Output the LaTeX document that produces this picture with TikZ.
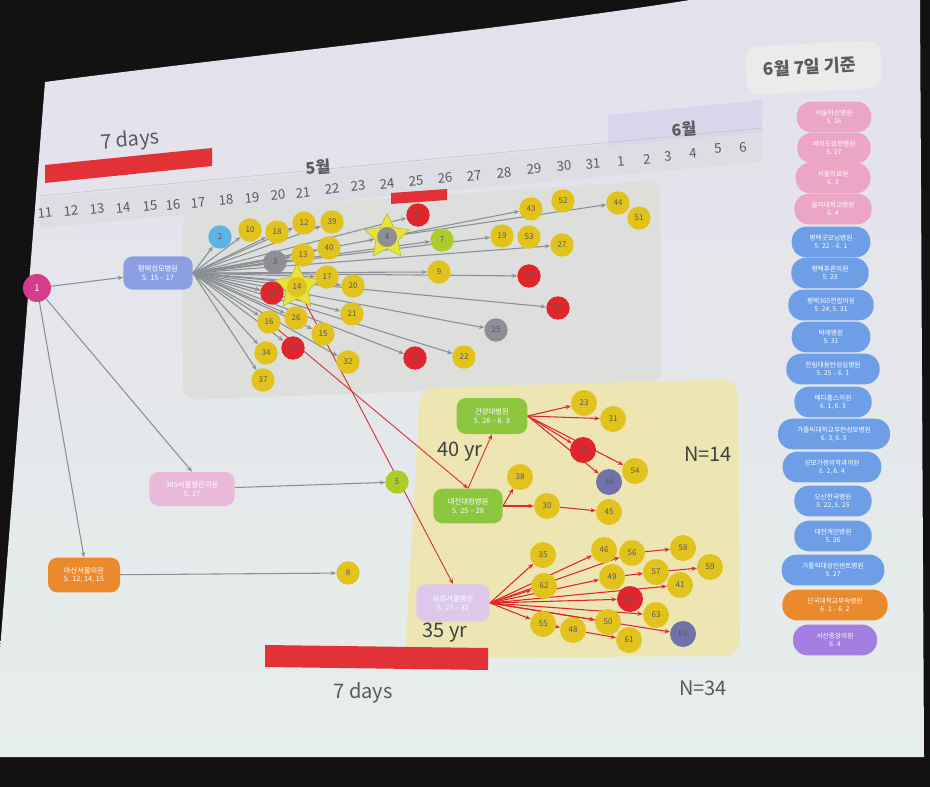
\documentclass[tikz,border=0pt]{standalone}
\usepackage{fontspec}
\setmainfont{Noto Sans CJK KR}
\usetikzlibrary{shapes.geometric,arrows.meta}
\pgfdeclarelayer{back}
\pgfdeclarelayer{wires}
\pgfsetlayers{back,wires,main}
\definecolor{cdark}{HTML}{141113}
\definecolor{cbg}{HTML}{E6EEEB}
\definecolor{ctop}{HTML}{E4E0EC}
\definecolor{cgpanel}{HTML}{DCDFDC}
\definecolor{cypanel}{HTML}{EDE6B2}
\definecolor{cband}{HTML}{DDDEE4}
\definecolor{cbandp}{HTML}{D9D6EC}
\definecolor{cyel}{HTML}{E2C21C}
\definecolor{cred}{HTML}{E0262D}
\definecolor{cgray}{HTML}{8E8E96}
\definecolor{clime}{HTML}{A9CE2A}
\definecolor{cblue}{HTML}{5DB2E6}
\definecolor{cmag}{HTML}{D63C8C}
\definecolor{cpyeong}{HTML}{8C9FE2}
\definecolor{cpink}{HTML}{EAB8D8}
\definecolor{corange}{HTML}{EA8A2C}
\definecolor{cgreen}{HTML}{8DC63F}
\definecolor{clav}{HTML}{DCC8EA}
\definecolor{clpink}{HTML}{EBA6C6}
\definecolor{clblue}{HTML}{6E9EE6}
\definecolor{clpurple}{HTML}{A47EE0}
\definecolor{cline}{HTML}{8C8E96}
\definecolor{cstar}{HTML}{E6E43C}
\definecolor{ctext}{HTML}{5A5A5E}
\begin{document}
\begin{tikzpicture}[x=0.75pt,y=-0.75pt,
  dot/.style={circle,minimum size=17.5pt,inner sep=0pt,font=\fontsize{6}{6}\selectfont,text=black!65},
  bdot/.style={dot,minimum size=19.5pt},
  yc/.style={dot,fill=cyel}, rc/.style={dot,fill=cred}, gc/.style={dot,fill=cgray},
  lc/.style={dot,fill=clime},
  ycb/.style={bdot,fill=cyel}, rcb/.style={bdot,fill=cred}, gcb/.style={bdot,fill=cgray!80!blue},
  hosp/.style={rounded corners=7pt,inner sep=1pt,text=white,align=center,font=\fontsize{5.5}{6.5}\selectfont},
  leg/.style={rounded corners=11pt,minimum height=23pt,inner sep=1pt,text=white,align=center,font=\fontsize{5}{6}\selectfont},
  starbox/.style={star,star points=5,star point ratio=2.0,fill=cstar,draw=cstar!80!black,line width=0.4pt,minimum size=35pt,inner sep=0pt},
  garr/.style={draw=cline,line width=0.8pt,-{Stealth[length=4pt,width=3.2pt]}},
  rarr/.style={draw=cred,line width=0.8pt,-{Stealth[length=4pt,width=3.2pt]}},
  rarrb/.style={draw=cred!85!brown,line width=0.7pt,-{Stealth[length=4pt,width=3.2pt]}},
  day/.style={font=\fontsize{10}{10}\selectfont,text=ctext,rotate=5},
  big/.style={font=\fontsize{15}{15}\selectfont,text=ctext},
  redbar/.style={fill=cred!95!white}
]
\useasboundingbox (0,0) rectangle (930,787);
\begin{pgfonlayer}{back}
  \fill[cdark] (0,0) rectangle (930,787);
  \shade[top color=ctop,bottom color=cbg] (45,82) .. controls (250,55) and (500,30) .. (690,0) -- (920,0) -- (924,757) -- (0,757) -- (0,650) -- cycle;
  % timeline band
  \fill[cband] (40,198) -- (762,130) -- (762,162) -- (40,228) -- cycle;
  \fill[cbandp] (608,115) -- (762,100) -- (762,132) -- (608,146) -- cycle;
  \draw[gray!45,line width=0.5pt] (40,196) -- (762,128);
  % panels
  \fill[cgpanel,rounded corners=10pt] (183,212) -- (660,180) -- (662,382) -- (183,400) -- cycle;
  \fill[cypanel,rounded corners=12pt] (420,388) -- (738,379) -- (740,656) -- (405,658) -- cycle;
  % header box
  \fill[gray!16,rounded corners=10pt] (745,47) -- (880,40) -- (882,88) -- (747,95) -- cycle;
  % red bars
  \fill[redbar] (45,165) -- (212,148) -- (212,166) -- (45,183) -- cycle;
  \fill[redbar] (391,193) -- (447,189) -- (447,200) -- (391,204) -- cycle;
  \fill[redbar] (265,645) -- (488,648) -- (488,670) -- (265,667) -- cycle;
\end{pgfonlayer}

% texts
\node[big,rotate=5] (t7a) at (130,141) {7 days};
\node[big] (t7b) at (363,693) {7 days};
\node[font=\fontsize{12}{12}\selectfont\bfseries,text=ctext,rotate=5] (m5) at (318,167) {5월};
\node[font=\fontsize{12}{12}\selectfont\bfseries,text=ctext,rotate=5] (m6) at (684,129) {6월};
\node[font=\fontsize{13}{13}\selectfont\bfseries,text=ctext,rotate=3] (hdr) at (810,67) {6월 7일 기준};
\node[font=\fontsize{15}{15}\selectfont,text=black!75] (n14t) at (708,454) {N=14};
\node[font=\fontsize{15}{15}\selectfont,text=ctext] (n34t) at (703,688) {N=34};
\node[font=\fontsize{15}{15}\selectfont,text=black!75] (y40) at (460,452) {40 yr};
\node[font=\fontsize{15}{15}\selectfont,text=black!75] (y35) at (445,633) {35 yr};

% day labels
\foreach \d/\x/\y in {11/45/213,12/71/211,13/97/209,14/123/208,15/150/206,16/173/205,17/198/203,18/226/200,19/252/198,20/278/195,21/303/193,22/332/189,23/358/186,24/387/184,25/416/181,26/445/178,27/474/176,28/504/173,29/534/169,30/564/166,31/593/164,1/621/161,2/647/159,3/668/156,4/693/153,5/718/149,6/743/147}
  \node[day] (d\d-\x) at (\x,\y) {\d};

% main hospitals
\node[circle,fill=cmag,minimum size=21pt,inner sep=0pt,text=white,font=\fontsize{7}{7}\selectfont] (p1) at (37,288) {1};
\node[hosp,fill=cpyeong,minimum width=52pt,minimum height=25pt] (hpy) at (158,273) {평택성모병원\\5. 15 – 17};
\node[hosp,fill=cpink,minimum width=64pt,minimum height=25.5pt] (h365) at (192,489) {365서울열린의원\\5. 17};
\node[hosp,fill=corange,minimum width=54pt,minimum height=26pt] (hasan) at (84,575) {아산서울의원\\5. 12, 14, 15};
\node[hosp,fill=cgreen,minimum width=53pt,minimum height=27pt] (hgy) at (492,416) {건양대병원\\5. 28 – 6. 3};
\node[hosp,fill=cgreen,minimum width=52pt,minimum height=26pt] (hdc) at (468,506) {대전대청병원\\5. 25 – 28};
\node[hosp,fill=clav,minimum width=55pt,minimum height=28pt] (hss) at (453,603) {삼성서울병원\\5. 27 – 31};

\node[lc] (n5) at (397,482) {5};
\node[yc] (n8) at (348,573) {8};

% gray group
\node[dot,fill=cblue] (n2) at (220,237) {2};
\node[yc] (n10) at (250,230) {10};
\node[yc] (n18) at (277,232) {18};
\node[yc] (n12) at (304,223) {12};
\node[yc] (n39) at (332,222) {39};
\node[starbox] (s4) at (387,237) {};
\node[gc,minimum size=15pt] (n4) at (387,237) {4};
\node[rc] (n6) at (418,215) {6};
\node[lc] (n7) at (442,240) {7};
\node[gc] (n3) at (275,262) {3};
\node[yc] (n13) at (303,255) {13};
\node[yc] (n40) at (329,248) {40};
\node[yc] (n9) at (439,272) {9};
\node[starbox] (s14) at (297,287) {};
\node[yc,minimum size=15pt] (n14) at (297,287) {14};
\node[yc] (n17) at (327,277) {17};
\node[yc] (n20) at (353,286) {20};
\node[rc] (n11) at (272,293) {11};
\node[yc] (n16) at (269,322) {16};
\node[yc] (n26) at (296,318) {26};
\node[yc] (n21) at (352,314) {21};
\node[yc] (n15) at (323,334) {15};
\node[rc] (n33) at (293,348) {33};
\node[yc] (n34) at (266,353) {34};
\node[yc] (n37) at (263,380) {37};
\node[yc] (n32) at (348,362) {32};
\node[rc] (n42) at (415,358) {42};
\node[yc] (n22) at (464,357) {22};
\node[yc] (n43) at (531,209) {43};
\node[yc] (n52) at (563,201) {52};
\node[yc] (n44) at (618,203) {44};
\node[yc] (n51) at (639,218) {51};
\node[yc] (n19) at (502,236) {19};
\node[yc] (n53) at (529,237) {53};
\node[yc] (n27) at (562,245) {27};
\node[rc] (n28) at (529,276) {28};
\node[rc] (n29) at (558,308) {29};
\node[gc] (n25) at (496,330) {25};

% Geonyang / Daecheong
\node[ycb] (n23) at (584,403) {23};
\node[ycb] (n31) at (613,419) {31};
\node[rcb] (n24) at (583,450) {24};
\node[gcb] (n36) at (609,482) {36};
\node[ycb] (n54) at (635,471) {54};
\node[ycb] (n38) at (520,477) {38};
\node[ycb] (n30) at (547,506) {30};
\node[ycb] (n45) at (609,512) {45};

% Samsung
\node[ycb] (n35) at (543,555) {35};
\node[ycb] (n62) at (544,586) {62};
\node[ycb] (n46) at (604,550) {46};
\node[ycb] (n56) at (632,553) {56};
\node[ycb] (n58) at (683,548) {58};
\node[ycb] (n49) at (612,577) {49};
\node[ycb] (n57) at (656,572) {57};
\node[ycb] (n59) at (710,567) {59};
\node[ycb] (n41) at (680,585) {41};
\node[rcb] (n47) at (630,599) {47};
\node[ycb] (n63) at (656,615) {63};
\node[ycb] (n55) at (543,624) {55};
\node[ycb] (n48) at (573,630) {48};
\node[ycb] (n50) at (608,622) {50};
\node[ycb] (n61) at (629,640) {61};
\node[gcb] (n64) at (683,634) {64};

% legend
\node[leg,fill=clpink,minimum width=56pt] (l1) at (834,117) {서울아산병원\\5. 26};
\node[leg,fill=clpink,minimum width=55pt] (l2) at (834,148) {여의도성모병원\\5. 27};
\node[leg,fill=clpink,minimum width=56pt] (l3) at (833,178) {서울의료원\\6. 3};
\node[leg,fill=clpink,minimum width=58pt] (l4) at (833,209) {을지대학교병원\\6. 4};
\node[leg,fill=clblue,minimum width=59pt] (l5) at (831,242) {평택굿모닝병원\\5. 22 – 6. 1};
\node[leg,fill=clblue,minimum width=58pt] (l6) at (830,273) {평택푸른의원\\5. 23};
\node[leg,fill=clblue,minimum width=64pt] (l7) at (831,305) {평택365연합의원\\5. 24, 5. 31};
\node[leg,fill=clblue,minimum width=59pt] (l8) at (831,337) {박애병원\\5. 31};
\node[leg,fill=clblue,minimum width=70pt] (l9) at (833,369) {한림대동탄성심병원\\5. 25 – 6. 1};
\node[leg,fill=clblue,minimum width=58pt] (l10) at (833,402) {메디홀스의원\\6. 1, 6. 3};
\node[leg,fill=clblue,minimum width=84pt] (l11) at (834,434) {가톨릭대학교부천성모병원\\6. 3, 6. 5};
\node[leg,fill=clblue,minimum width=74pt] (l12) at (832,467) {성모가정의학과의원\\6. 2, 6. 4};
\node[leg,fill=clblue,minimum width=58pt] (l13) at (833,501) {오산한국병원\\5. 22, 5. 25};
\node[leg,fill=clblue,minimum width=58pt] (l14) at (833,536) {대전개인병원\\5. 26};
\node[leg,fill=clblue,minimum width=77pt] (l15) at (833,570) {가톨릭대성빈센트병원\\5. 27};
\node[leg,fill=corange,minimum width=79pt] (l16) at (835,605) {단국대학교부속병원\\6. 1 – 6. 2};
\node[leg,fill=clpurple,minimum width=63pt] (l17) at (835,640) {서산중앙의원\\6. 4};

% connectors
\begin{pgfonlayer}{wires}
  \draw[garr] (p1) -- (hpy);
  \draw[garr] (p1) -- (h365.north);
  \draw[garr] (p1) -- (hasan.north);
  \draw[garr] (h365) -- (n5);
  \draw[garr] (hasan) -- (n8);
  \foreach \t in {n2,n10,n18,n12,n39,s4,n3,n13,n40,n9,n14,n17,n20,n11,n16,n26,n21,n15,n33,n34,n37,n32,n42,n22,n19,n27,n28,n29,n25}
    \draw[garr] (hpy.east) -- (\t);
  \draw[garr] (hpy.east) -- (n6);
  \draw[garr] (hpy.east) -- (n7);
  \draw[garr] (s4) -- (n43);
  \draw[garr] (s4) -- (n44);
  % red chains
  \draw[rarrb] (n16) -- (hdc.north);
  \draw[rarrb] (s14) -- (hss.north);
  \draw[rarrb] (hdc.north) -- (hgy.south);
  \foreach \t in {n23,n31,n24,n36,n54}
    \draw[rarr] (hgy.east) -- (\t);
  \draw[rarr] (hdc.east) -- (n38);
  \draw[rarr] (hdc.east) -- (n30);
  \draw[rarr] (n30) -- (n45);
  \foreach \t in {n35,n62,n46,n56,n49,n41,n47,n63,n55,n50,n64}
    \draw[rarr] (hss.east) -- (\t);
  \draw[rarr] (n56) -- (n58);
  \draw[rarr] (n49) -- (n57);
  \draw[rarr] (n57) -- (n59);
  \draw[rarr] (n55) -- (n48);
  \draw[rarr] (n48) -- (n61);
\end{pgfonlayer}
\end{tikzpicture}
\end{document}
